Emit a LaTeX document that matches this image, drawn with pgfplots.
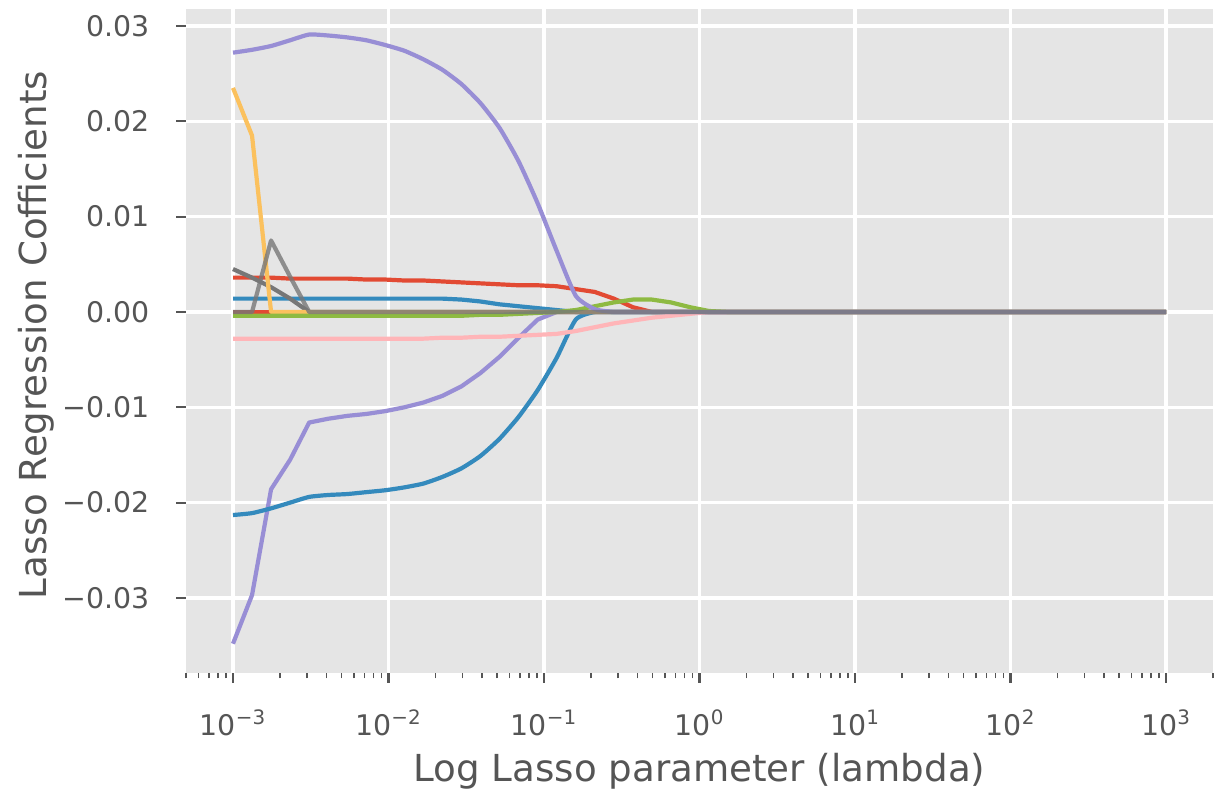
\documentclass[border=0pt]{standalone}
\usepackage{fontspec}
\setmainfont{DejaVu Sans}
\usepackage{pgfplots}
\usepackage{pgfplotstable}
\pgfplotsset{compat=1.18}
\definecolor{bgc}{HTML}{E5E5E5}
\definecolor{labc}{HTML}{555555}
\definecolor{cred}{HTML}{E24A33}
\definecolor{cblue}{HTML}{348ABD}
\definecolor{cpurple}{HTML}{988ED5}
\definecolor{cgray}{HTML}{777777}
\definecolor{cyellow}{HTML}{FBC15E}
\definecolor{cgreen}{HTML}{8EBA42}
\definecolor{cpink}{HTML}{FFB5B8}
\pgfplotstableread{
x          pl      bl      rd      bm      ga      rz   yl      gr      pk      pu      gb
0.001      -0.0348 -0.0213 0.0036  0.0014  0.0045  0    0.0235  -0.0004 -0.0028 0.0272  0
0.0013257  -0.0297 -0.0211 0.0036  0.0014  0.0036  0    0.0185  -0.0004 -0.0028 0.0275  0
0.0017575  -0.0186 -0.0206 0.0036  0.0014  0.0026  0    0       -0.0004 -0.0028 0.0279  0.0075
0.0023300  -0.0155 -0.0200 0.0035  0.0014  0.0014  0    0       -0.0004 -0.0028 0.0285  0.0037
0.0030888  -0.0116 -0.0194 0.0035  0.0014  0       0    0       -0.0004 -0.0028 0.0291  0
0.0040949  -0.0112 -0.0192 0.0035  0.0014  0       0    0       -0.0004 -0.0028 0.0290  0
0.0054287  -0.0109 -0.0191 0.0035  0.0014  0       0    0       -0.0004 -0.0028 0.0288  0
0.0071969  -0.0107 -0.0189 0.0034  0.0014  0       0    0       -0.0004 -0.0028 0.0285  0
0.0095410  -0.0104 -0.0187 0.0034  0.0014  0       0    0       -0.0004 -0.0028 0.0280  0
0.012649   -0.0100 -0.0184 0.0033  0.0014  0       0    0       -0.0004 -0.0028 0.0274  0
0.016768   -0.0095 -0.0180 0.0033  0.0014  0       0    0       -0.0004 -0.0028 0.0265  0
0.022230   -0.0088 -0.0173 0.0032  0.0014  0       0    0       -0.0004 -0.0027 0.0254  0
0.029471   -0.0078 -0.0164 0.0031  0.0013  0       0    0       -0.0004 -0.0027 0.0239  0
0.039069   -0.0064 -0.0151 0.0030  0.0011  0       0    0       -0.0003 -0.0026 0.0219  0
0.051795   -0.0047 -0.0133 0.0029  0.0008  0       0    0       -0.0003 -0.0026 0.0193  0
0.068665   -0.0027 -0.0110 0.0028  0.0006  0       0    0       -0.0002 -0.0025 0.0158  0
0.091030   -0.0008 -0.0082 0.0028  0.0004  0       0    0       -0.0001 -0.0024 0.0114  0
0.12068    0       -0.0048 0.0027  0.0002  0       0    0       0       -0.0023 0.0064  0
0.15999    0       -0.0008 0.0024  0       0       0    0       0.0002  -0.0020 0.0017  0
0.21210    0       0       0.0021  0       0       0    0       0.0006  -0.0016 0.0003  0
0.28118    0       0       0.0014  0       0       0    0       0.0010  -0.0012 0       0
0.37276    0       0       0.0005  0       0       0    0       0.0013  -0.0009 0       0
0.49417    0       0       0       0       0       0    0       0.0013  -0.0006 0       0
0.65513    0       0       0       0       0       0    0       0.0010  -0.0004 0       0
0.86851    0       0       0       0       0       0    0       0.0005  -0.0002 0       0
1.1514     0       0       0       0       0       0    0       0.0001  0       0       0
1.5264     0       0       0       0       0       0    0       0       0       0       0
1000       0       0       0       0       0       0    0       0       0       0       0
}\lasso
\begin{document}
\begin{tikzpicture}
\begin{axis}[
  xmode=log, log basis x=10,
  scale only axis, width=513.3bp, height=331.7bp,
  xmin=0.0005, xmax=2000, ymin=-0.03784, ymax=0.03175,
  axis background/.style={fill=bgc},
  axis line style={draw=none},
  grid=major, major grid style={white, line width=1.6bp},
  minor grid style={draw=none},
  xtick={0.001,0.01,0.1,1,10,100,1000},
  xticklabels={10\textsuperscript{−3},10\textsuperscript{−2},10\textsuperscript{−1},10\textsuperscript{0},10\textsuperscript{1},10\textsuperscript{2},10\textsuperscript{3}},
  minor xtick={0.0005,0.0006,0.0007,0.0008,0.0009,0.002,0.003,0.004,0.005,0.006,0.007,0.008,0.009,0.02,0.03,0.04,0.05,0.06,0.07,0.08,0.09,0.2,0.3,0.4,0.5,0.6,0.7,0.8,0.9,2,3,4,5,6,7,8,9,20,30,40,50,60,70,80,90,200,300,400,500,600,700,800,900,2000},
  ytick={-0.03,-0.02,-0.01,0,0.01,0.02,0.03},
  yticklabels={−0.03,−0.02,−0.01,0.00,0.01,0.02,0.03},
  xtick pos=lower, ytick pos=left,
  tick align=outside,
  major tick length=4.9bp, minor tick length=2.8bp,
  every tick/.style={color=labc, line width=1.1bp},
  every minor tick/.style={color=labc, line width=0.8bp},
  ticklabel style={font=\fontsize{14.2bp}{17bp}\selectfont, text=labc},
  xticklabel style={anchor=north, inner sep=0pt, yshift=-13.6bp},
  yticklabel style={anchor=east, inner sep=0pt, xshift=-13.1bp},
  every axis x label/.style={at={(axis description cs:0.5,0)}, anchor=base, yshift=-54.2bp},
  every axis y label/.style={at={(axis description cs:0,0.5)}, xshift=-69.6bp, yshift=3bp, rotate=90, anchor=base},
  label style={font=\fontsize{18.6bp}{22bp}\selectfont, text=labc},
  xlabel={Log Lasso parameter (lambda)},
  ylabel={Lasso Regression Cofficients},
  every axis plot/.append style={line width=2.1bp, line join=round},
]
\addplot[cpurple] table[x=x,y=pl] {\lasso};
\addplot[cblue, smooth, tension=0.35] table[x=x,y=bl] {\lasso};
\addplot[cred] table[x=x,y=rd] {\lasso};
\addplot[cblue] table[x=x,y=bm] {\lasso};
\addplot[cgray] table[x=x,y=ga] {\lasso};
\addplot[cred] table[x=x,y=rz] {\lasso};
\addplot[cyellow] table[x=x,y=yl] {\lasso};
\addplot[cpink] table[x=x,y=pk] {\lasso};
\addplot[cgreen] table[x=x,y=gr] {\lasso};
\addplot[cpurple, smooth, tension=0.35] table[x=x,y=pu] {\lasso};
\addplot[cgray, draw opacity=0.8] table[x=x,y=gb] {\lasso};
\end{axis}
\pgfresetboundingbox
\useasboundingbox (-93.1bp,-60.15bp) rectangle (514.4bp,336.35bp);
\end{tikzpicture}
\end{document}
